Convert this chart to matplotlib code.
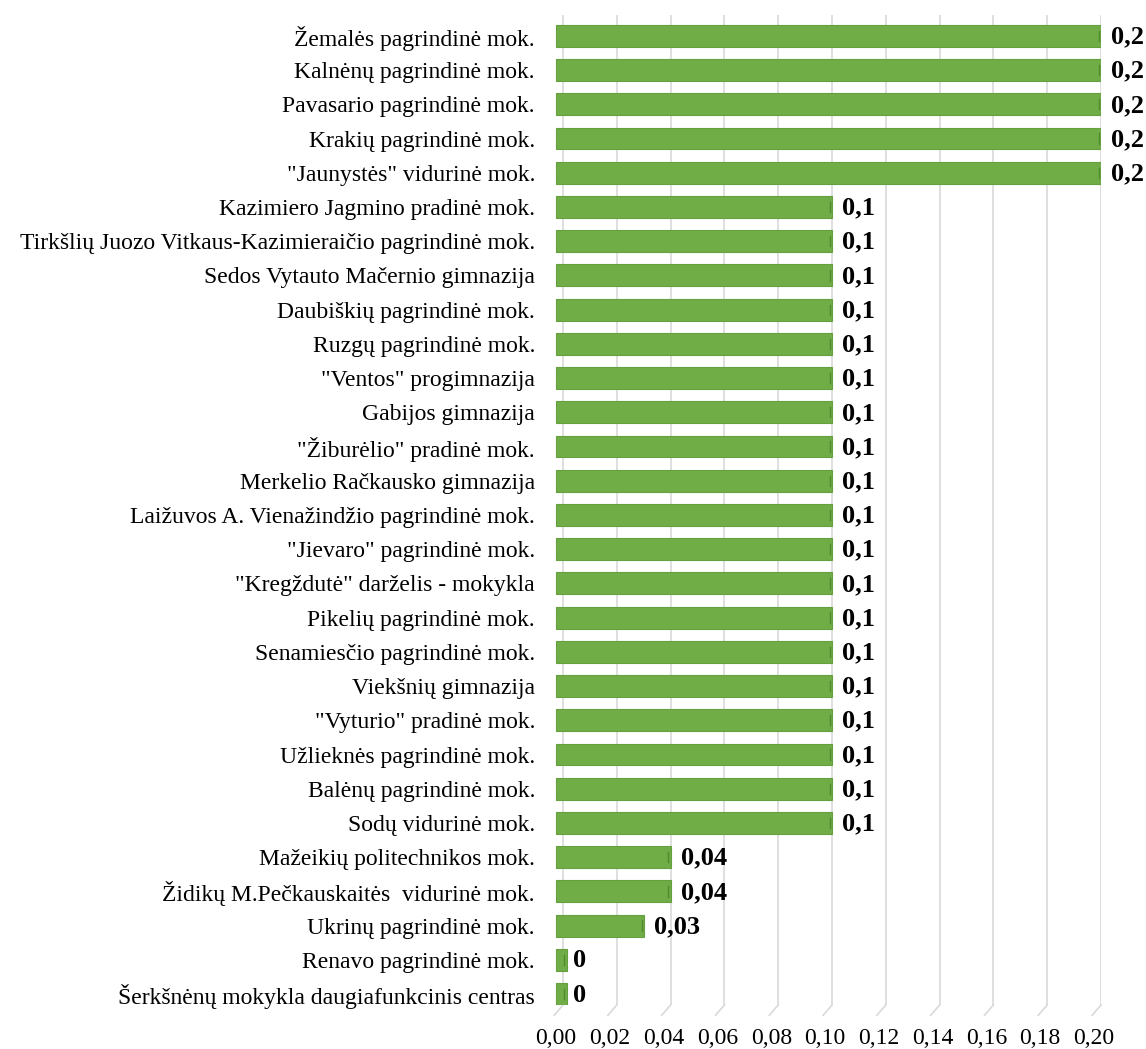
import matplotlib.pyplot as plt
import matplotlib.transforms as mtransforms

# school names, top to bottom as in the chart
schools = [
    "Žemalės pagrindinė mok.",
    "Kalnėnų pagrindinė mok.",
    "Pavasario pagrindinė mok.",
    "Krakių pagrindinė mok.",
    "\"Jaunystės\" vidurinė mok.",
    "Kazimiero Jagmino pradinė mok.",
    "Tirkšlių Juozo Vitkaus-Kazimieraičio pagrindinė mok.",
    "Sedos Vytauto Mačernio gimnazija",
    "Daubiškių pagrindinė mok.",
    "Ruzgų pagrindinė mok.",
    "\"Ventos\" progimnazija",
    "Gabijos gimnazija",
    "\"Žiburėlio\" pradinė mok.",
    "Merkelio Račkausko gimnazija",
    "Laižuvos A. Vienažindžio pagrindinė mok.",
    "\"Jievaro\" pagrindinė mok.",
    "\"Kregždutė\" darželis - mokykla",
    "Pikelių pagrindinė mok.",
    "Senamiesčio pagrindinė mok.",
    "Viekšnių gimnazija",
    "\"Vyturio\" pradinė mok.",
    "Užlieknės pagrindinė mok.",
    "Balėnų pagrindinė mok.",
    "Sodų vidurinė mok.",
    "Mažeikių politechnikos mok.",
    "Židikų M.Pečkauskaitės  vidurinė mok.",
    "Ukrinų pagrindinė mok.",
    "Renavo pagrindinė mok.",
    "Šerkšnėnų mokykla daugiafunkcinis centras",
]
values = [0.2] * 5 + [0.1] * 19 + [0.04, 0.04, 0.03, 0, 0]
value_labels = ["0,2"] * 5 + ["0,1"] * 19 + ["0,04", "0,04", "0,03", "0", "0"]
xticks = [0.00, 0.02, 0.04, 0.06, 0.08, 0.10, 0.12, 0.14, 0.16, 0.18, 0.20]

plt.rcParams['font.family'] = ['Liberation Serif', 'DejaVu Serif']

fig = plt.figure(figsize=(11.46, 10.49), dpi=100)
ax = fig.add_axes([553 / 1146, 1 - 1005 / 1049, (1101 - 553) / 1146, 990 / 1049])

green = '#70AD47'
depth = 0.0025  # 3d-ish offset of the bar front
ypos = list(range(len(schools)))
for y, v, lab in zip(ypos, values, value_labels):
    w = max(v, 0.0015) + depth
    ax.barh(y, w, left=-depth, height=0.64, color=green, edgecolor='#65A03F', linewidth=0.8, zorder=3)
    # small darker cap near the right end
    cx = v - 0.0008 if v > 0 else 0.0005
    ax.plot([cx, cx], [y - 0.15, y + 0.15], color='#4E8A2E', lw=1.0, zorder=4)
    ax.text(v + depth + 0.0012, y + 0.03, lab, va='center', ha='left', fontsize=19,
            fontweight='bold', color='black', zorder=5)

ax.set_xlim(-10 / 2690, 0.2)
ax.set_ylim(28.32, -0.61)

# vertical gridlines with a little perspective foot
for t in xticks:
    ax.axvline(t, color='#D9D9D9', lw=1.2, zorder=1)
    ax.plot([t, t - 0.0033], [28.32, 28.62], color='#D9D9D9', lw=1.2, clip_on=False, zorder=1)

ax.set_yticks(ypos)
ax.set_yticklabels(schools, fontsize=17)
ax.set_xticks(xticks)
ax.set_xticklabels([])
# x tick labels sit on the front plane, a bit left of the gridlines
shift = mtransforms.ScaledTranslation(-7 / 100, -33 / 100, fig.dpi_scale_trans)
for t in xticks:
    ax.text(t, 0, f"{t:.2f}".replace('.', ','), transform=ax.get_xaxis_transform() + shift,
            ha='center', va='center', fontsize=17)
ax.tick_params(axis='both', length=0)
ax.tick_params(axis='y', pad=13)
for s in ax.spines.values():
    s.set_visible(False)

fig.savefig("out.png", dpi=100)
